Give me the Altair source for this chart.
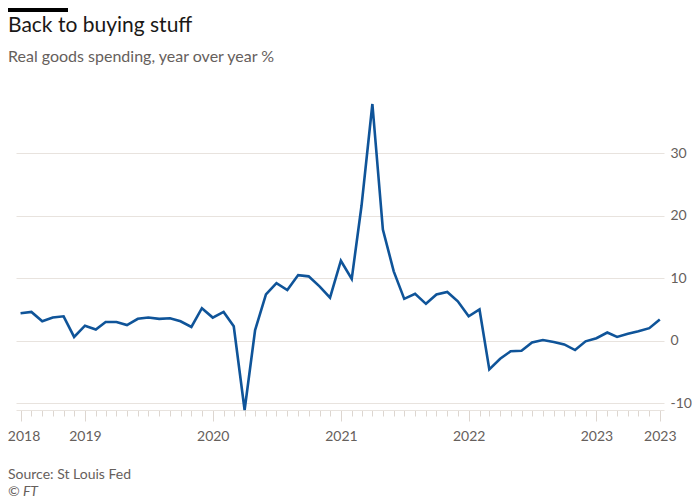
import altair as alt
import pandas as pd

# ---- data -------------------------------------------------------------
months = pd.date_range("2018-07-01", "2023-07-01", freq="MS").strftime("%Y-%m-%d").tolist()
spending_yoy = [
    4.4, 4.6, 3.1, 3.7, 3.9, 0.6,            # Jul-Dec 2018
    2.4, 1.8, 3.0, 3.0, 2.5, 3.5,            # Jan-Jun 2019
    3.7, 3.5, 3.6, 3.1, 2.2, 5.2,            # Jul-Dec 2019
    3.7, 4.6, 2.3, -11.1, 1.7, 7.4,          # Jan-Jun 2020
    9.2, 8.1, 10.5, 10.3, 8.7, 6.9,          # Jul-Dec 2020
    12.8, 9.9, 21.6, 37.9, 17.8, 11.1,       # Jan-Jun 2021
    6.7, 7.5, 5.9, 7.4, 7.8, 6.3,            # Jul-Dec 2021
    3.9, 5.0, -4.6, -2.9, -1.7, -1.6,        # Jan-Jun 2022
    -0.3, 0.1, -0.2, -0.6, -1.5, -0.1,       # Jul-Dec 2022
    0.4, 1.3, 0.6, 1.1, 1.5, 2.0, 3.4,       # Jan-Jul 2023
]
label_months = ["2018-07", "2019-01", "2020-01", "2021-01", "2022-01", "2023-01", "2023-07"]
y_ticks = [-10, 0, 10, 20, 30]

title_text = "Back to buying stuff"
subtitle_text = "Real goods spending, year over year %"
source_text = "Source: St Louis Fed"
credit_text = "© FT"

df = pd.DataFrame({"date": months, "value": spending_yoy})

def ms(d):
    return int(pd.Timestamp(d, tz="UTC").timestamp() * 1000)

tick_values = [ms(m) for m in months]
x_domain = [ms("2018-06-18"), ms("2023-07-13")]
js_labels = "[" + ",".join(f"'{m}'" for m in label_months) + "]"
is_label = f"indexof({js_labels}, utcFormat(datum.value, '%Y-%m')) >= 0"
is_first = f"utcFormat(datum.value, '%Y-%m') == '{label_months[0]}'"

FONT = "Lato"
GREY = "#66605c"
GRID = "#e8e3de"

W, H = 648, 306

line = alt.Chart(df).mark_line(color="#0f5499", strokeWidth=2.6).encode(
    x=alt.X(
        "date:T",
        title=None,
        scale=alt.Scale(type="utc", domain=x_domain, nice=False),
        axis=alt.Axis(
            values=tick_values,
            grid=False,
            domain=True,
            domainColor=GRID,
            domainWidth=1,
            tickColor="#ddd6d0",
            tickWidth=1,
            tickSize={"condition": {"test": is_label, "value": 11}, "value": 6},
            labelExpr=f"{is_label} ? utcFormat(datum.value, '%Y') : ''",
            labelOffset={"condition": {"test": is_first, "value": 3}, "value": 0},
            labelFont=FONT,
            labelFontSize=14,
            labelColor=GREY,
            labelPadding=8,
            labelOverlap=False,
            labelFlush=False,
        ),
    ),
    y=alt.Y(
        "value:Q",
        title=None,
        scale=alt.Scale(domain=[-11.1, 37.9], nice=False, zero=False),
        axis=alt.Axis(
            orient="right",
            values=y_ticks,
            grid=True,
            gridColor=GRID,
            gridWidth=1,
            domain=False,
            ticks=False,
            labelExpr="'' + datum.value",
            labelFont=FONT,
            labelFontSize=14,
            labelColor=GREY,
            labelPadding=6,
            labelAlign="left",
        ),
    ),
)

def label(text, y, size, color, style="normal"):
    return alt.Chart(pd.DataFrame({"t": [text]})).mark_text(
        align="left", baseline="alphabetic", font=FONT, fontSize=size,
        color=color, fontStyle=style,
    ).encode(text="t:N", x=alt.value(-8), y=alt.value(y))

bar = alt.Chart(pd.DataFrame({"a": [0]})).mark_rule(color="#000000", strokeWidth=4).encode(
    x=alt.value(-8), x2=alt.value(52), y=alt.value(-94)
)

chart = alt.layer(
    line,
    bar,
    label(title_text, -72, 21, "#1a1817"),
    label(subtitle_text, -42, 16, GREY),
    label(source_text, 375, 14, GREY),
    label(credit_text, 392, 14, GREY, "italic"),
).properties(
    width=W,
    height=H,
    autosize=alt.AutoSizeParams(type="none"),
    padding={"left": 8, "top": 96, "right": 28, "bottom": 88},
    background="#ffffff",
).configure_view(stroke=None)

chart.save("out.html", embed_options={"renderer": "svg", "actions": False})
